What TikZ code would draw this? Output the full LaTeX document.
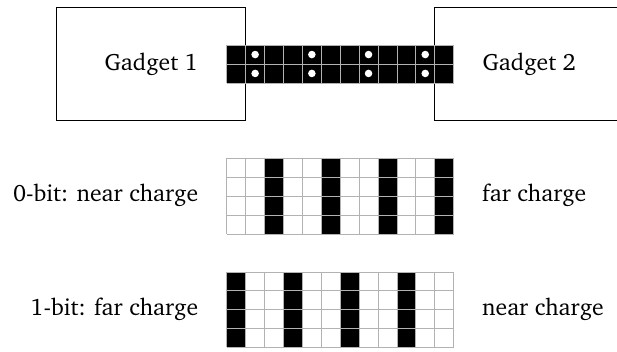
\documentclass[tikz,border=0pt]{standalone}
\usepackage[T1]{fontenc}
\usepackage{charter}
\begin{document}
\begin{tikzpicture}[x=0.5cm,y=-0.5cm,
  gadget/.style={draw=black,line width=0.9pt,minimum width=5cm,minimum height=3cm,inner sep=0pt},
  lbl/.style={inner sep=0pt,font=\fontsize{17.8}{21}\selectfont},
  gridline/.style={draw=black!30,line width=0.55pt},
  bitcell/.style={fill=black},
  dot/.style={fill=white,draw=none}]
\useasboundingbox (0,0) rectangle (32.646,18.624);
\clip (0,0) rectangle (32.646,18.624);
% gadgets
\node[gadget,lbl] (g1) at (8,3.386) {Gadget 1};
\node[gadget,lbl] (g2) at (28,3.386) {Gadget 2};
% top wire
\begin{scope}[shift={(12,2.386)}]
  \fill[bitcell] (0,0) rectangle (12,2);
  \foreach \i in {0,...,12} \draw[gridline] (\i,0) -- (\i,2);
  \foreach \j in {0,1,2} \draw[gridline] (0,\j) -- (12,\j);
  \foreach \c in {1,4,7,10} \foreach \r in {0,1}
    \fill[dot] (\c+0.5,\r+0.5) circle (0.1cm);
\end{scope}
% 0-bit
\begin{scope}[shift={(12,8.386)}]
  \foreach \c in {2,5,8,11} \fill[bitcell] (\c,0) rectangle (\c+1,4);
  \foreach \i in {0,...,12} \draw[gridline] (\i,0) -- (\i,4);
  \foreach \j in {0,...,4} \draw[gridline] (0,\j) -- (12,\j);
\end{scope}
% 1-bit
\begin{scope}[shift={(12,14.386)}]
  \foreach \c in {0,3,6,9} \fill[bitcell] (\c,0) rectangle (\c+1,4);
  \foreach \i in {0,...,12} \draw[gridline] (\i,0) -- (\i,4);
  \foreach \j in {0,...,4} \draw[gridline] (0,\j) -- (12,\j);
\end{scope}
\node[lbl,anchor=mid east] (l0) at (10.5,10.5) {0-bit: near charge};
\node[lbl,anchor=mid west] (r0) at (25.5,10.5) {far charge};
\node[lbl,anchor=mid east] (l1) at (10.5,16.5) {1-bit: far charge};
\node[lbl,anchor=mid west] (r1) at (25.5,16.5) {near charge};
\end{tikzpicture}
\end{document}
